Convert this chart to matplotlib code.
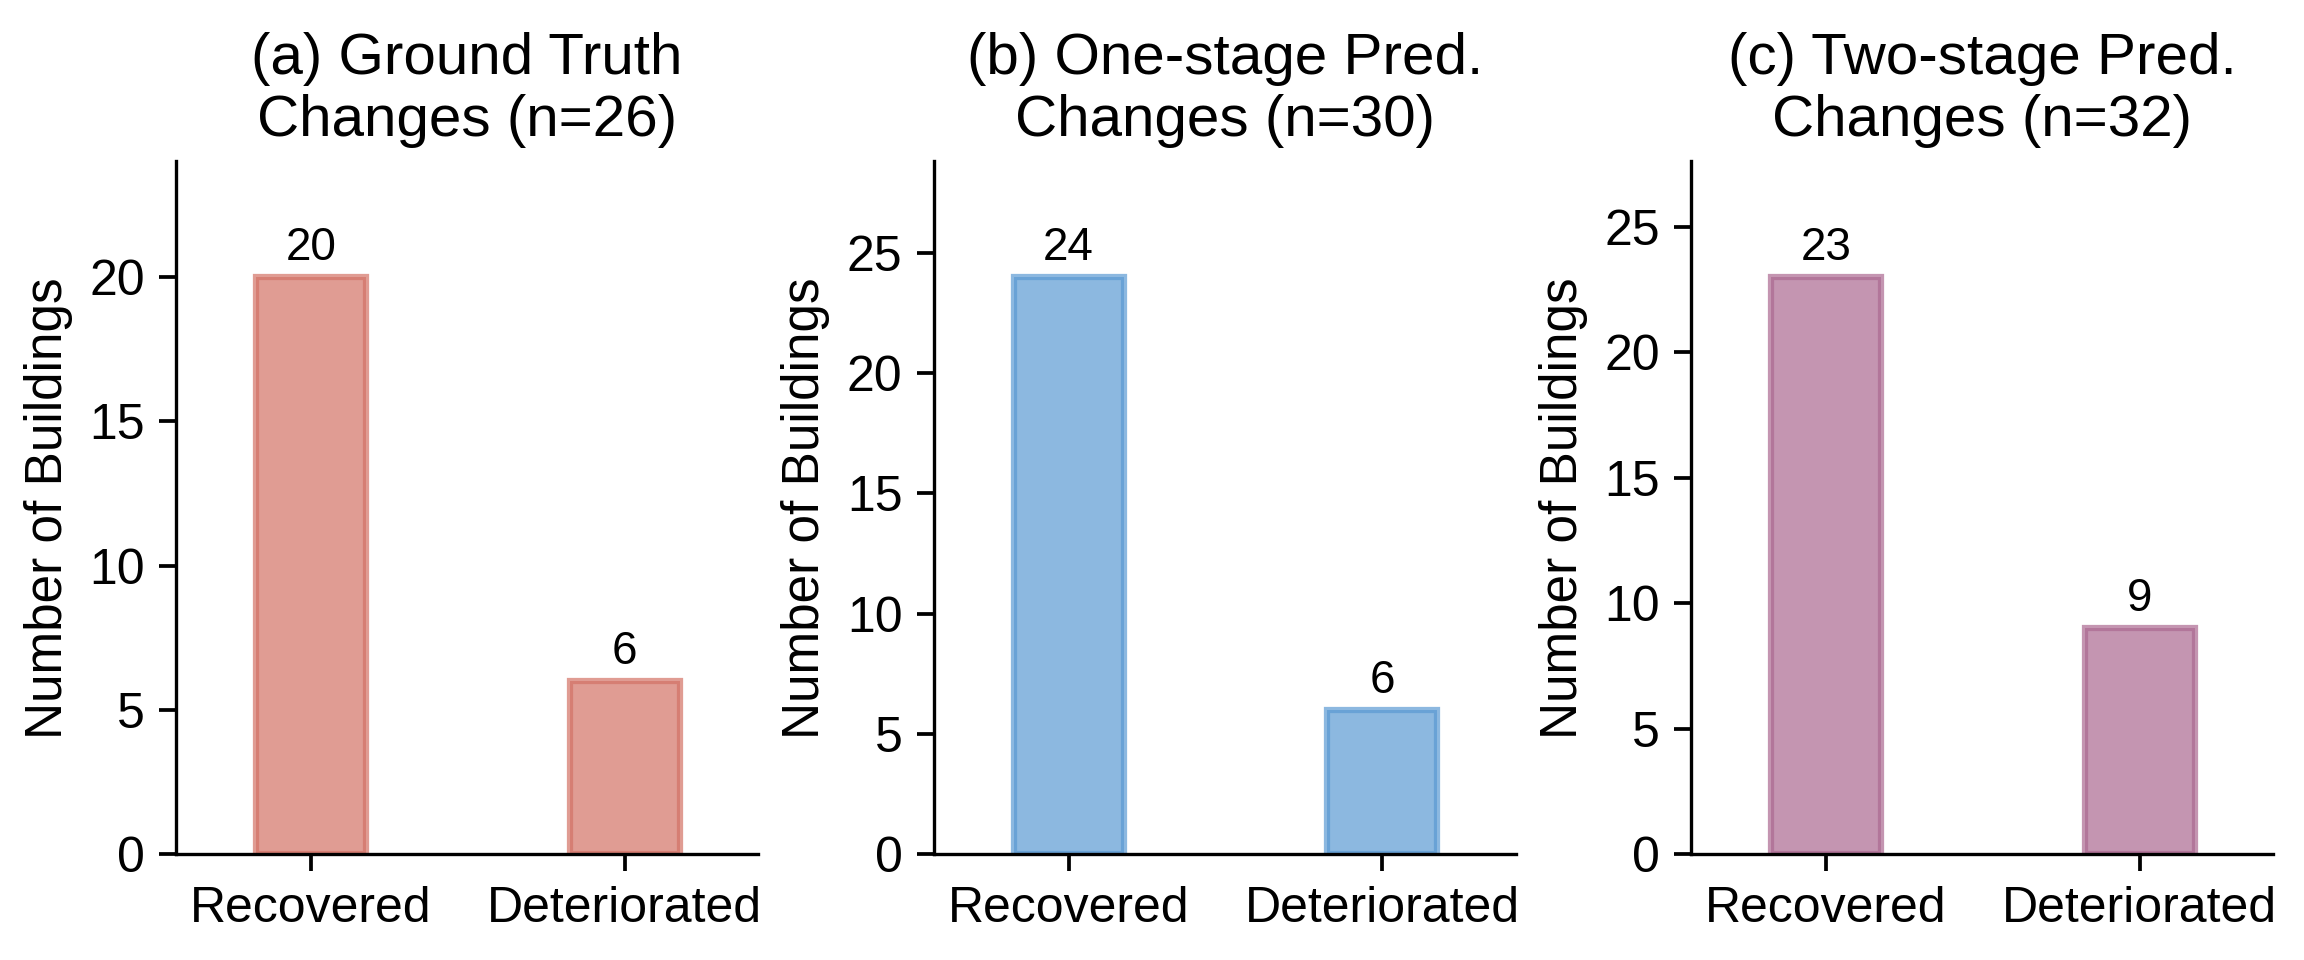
import matplotlib
matplotlib.use('Agg')
import matplotlib.pyplot as plt

plt.rcParams['font.family'] = ['Liberation Sans', 'DejaVu Sans']

# data
categories = ['Recovered', 'Deteriorated']
gt_counts = [20, 6]
one_stage_counts = [24, 6]
two_stage_counts = [23, 9]
titles = ['(a) Ground Truth\nChanges (n=26)',
          '(b) One-stage Pred.\nChanges (n=30)',
          '(c) Two-stage Pred.\nChanges (n=32)']
colors = ['#D37266', '#5B9AD3', '#AB6991']

fig, axes = plt.subplots(1, 3, figsize=(7.68, 3.2), dpi=300)
fig.subplots_adjust(left=0.0765, right=0.9866, bottom=0.11, top=0.832, wspace=0.302)

for ax, counts, title, c in zip(axes, [gt_counts, one_stage_counts, two_stage_counts], titles, colors):
    x = range(len(categories))
    bars = ax.bar(x, counts, width=0.35, color=c, edgecolor=c, linewidth=1.5, alpha=0.7)
    for b, v in zip(bars, counts):
        ax.text(b.get_x() + b.get_width() / 2, v + max(counts) * 0.012, str(v),
                ha='center', va='bottom', fontsize=11)
    ax.set_xticks(list(x))
    ax.set_xticklabels(categories, fontsize=12)
    ax.set_xlim(-0.43, 1.425)
    ax.set_ylim(0, max(counts) * 1.2)
    ax.set_ylabel('Number of Buildings', fontsize=12.3)
    ax.set_title(title, fontsize=14, pad=6)
    ax.tick_params(axis='y', labelsize=12)
    ax.tick_params(axis='both', length=4, width=0.9)
    ax.spines['top'].set_visible(False)
    ax.spines['right'].set_visible(False)

fig.savefig('out.png', dpi=300)
